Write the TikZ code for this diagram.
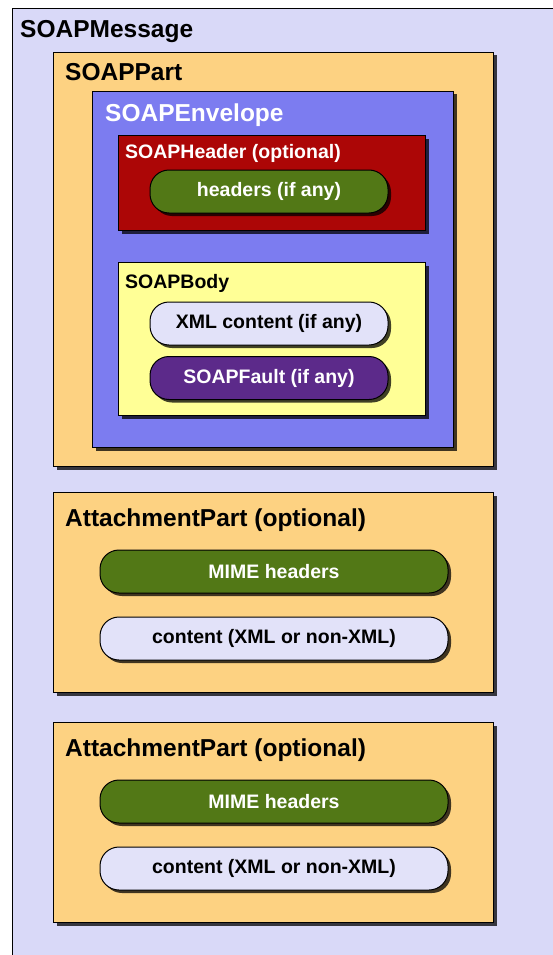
\documentclass[tikz,border=0pt]{standalone}
\usepackage{fontspec}
\setmainfont{Liberation Sans}
\usetikzlibrary{shadows}

\definecolor{msgbg}{RGB}{217,217,248}
\definecolor{partbg}{RGB}{253,210,130}
\definecolor{envbg}{RGB}{124,124,240}
\definecolor{hdrbg}{RGB}{172,6,6}
\definecolor{pillgreen}{RGB}{82,120,22}
\definecolor{bodybg}{RGB}{255,255,150}
\definecolor{pilllight}{RGB}{226,226,249}
\definecolor{pillpurple}{RGB}{92,42,138}

\begin{document}
\begin{tikzpicture}[x=1pt,y=-1pt,
    box/.style={draw=black,line width=1pt,inner sep=0pt,anchor=north west,
        drop shadow={shadow xshift=3pt,shadow yshift=-3pt,fill=black,opacity=.75}},
    pill/.style={box,anchor=center,rounded corners=19pt,minimum height=43pt,
        font=\fontsize{19.5}{23}\selectfont\bfseries},
    bigtitle/.style={anchor=west,inner sep=0pt,font=\fontsize{24.5}{28}\selectfont\bfseries},
    smalltitle/.style={anchor=west,inner sep=0pt,font=\fontsize{19.5}{23}\selectfont\bfseries}]
    \useasboundingbox (0,0) rectangle (553,955);
    \clip (0,0) rectangle (553,955);

    % SOAP message
    \fill[white] (0,0) rectangle (553,955);
    \node[draw=black,line width=1pt,fill=msgbg,inner sep=0pt,anchor=north west,
        minimum width=560pt,minimum height=960pt] (msg) at (12,8) {};
    \node[bigtitle] (msglabel) at (20,32) {SOAPMessage};

    % SOAP part
    \node[box,fill=partbg,minimum width=440pt,minimum height=414pt] (part) at (53,52) {};
    \node[bigtitle] (partlabel) at (65,72) {SOAPPart};

    % Envelope
    \node[box,fill=envbg,minimum width=361pt,minimum height=356pt] (env) at (92,91) {};
    \node[bigtitle,text=white] (envlabel) at (105,115) {SOAPEnvelope};

    % Header
    \node[box,fill=hdrbg,minimum width=307pt,minimum height=95pt] (hdr) at (118,135) {};
    \node[smalltitle,text=white] (hdrlabel) at (125,153) {SOAPHeader (optional)};
    \node[pill,fill=pillgreen,text=white,minimum width=238pt] (headers) at (269,191.5) {headers (if any)};

    % Body
    \node[box,fill=bodybg,minimum width=307pt,minimum height=153pt] (body) at (118,262) {};
    \node[smalltitle] (bodylabel) at (125,283) {SOAPBody};
    \node[pill,fill=pilllight,minimum width=238pt] (xml) at (269,323.5) {XML content (if any)};
    \node[pill,fill=pillpurple,text=white,minimum width=238pt] (fault) at (269,378) {SOAPFault (if any)};

    % Attachment parts
    \foreach \i/\y in {1/492,2/722} {
        \node[box,fill=partbg,minimum width=440pt,minimum height=200pt] (att\i) at (53,\y) {};
        \node[bigtitle] (att\i label) at (65,\y+28) {AttachmentPart (optional)};
        \node[pill,fill=pillgreen,text=white,minimum width=348pt] (mime\i) at (274,\y+79.5) {MIME headers};
        \node[pill,fill=pilllight,minimum width=348pt] (content\i) at (274,\y+146.5) {content (XML or non-XML)};
    }
\end{tikzpicture}
\end{document}
